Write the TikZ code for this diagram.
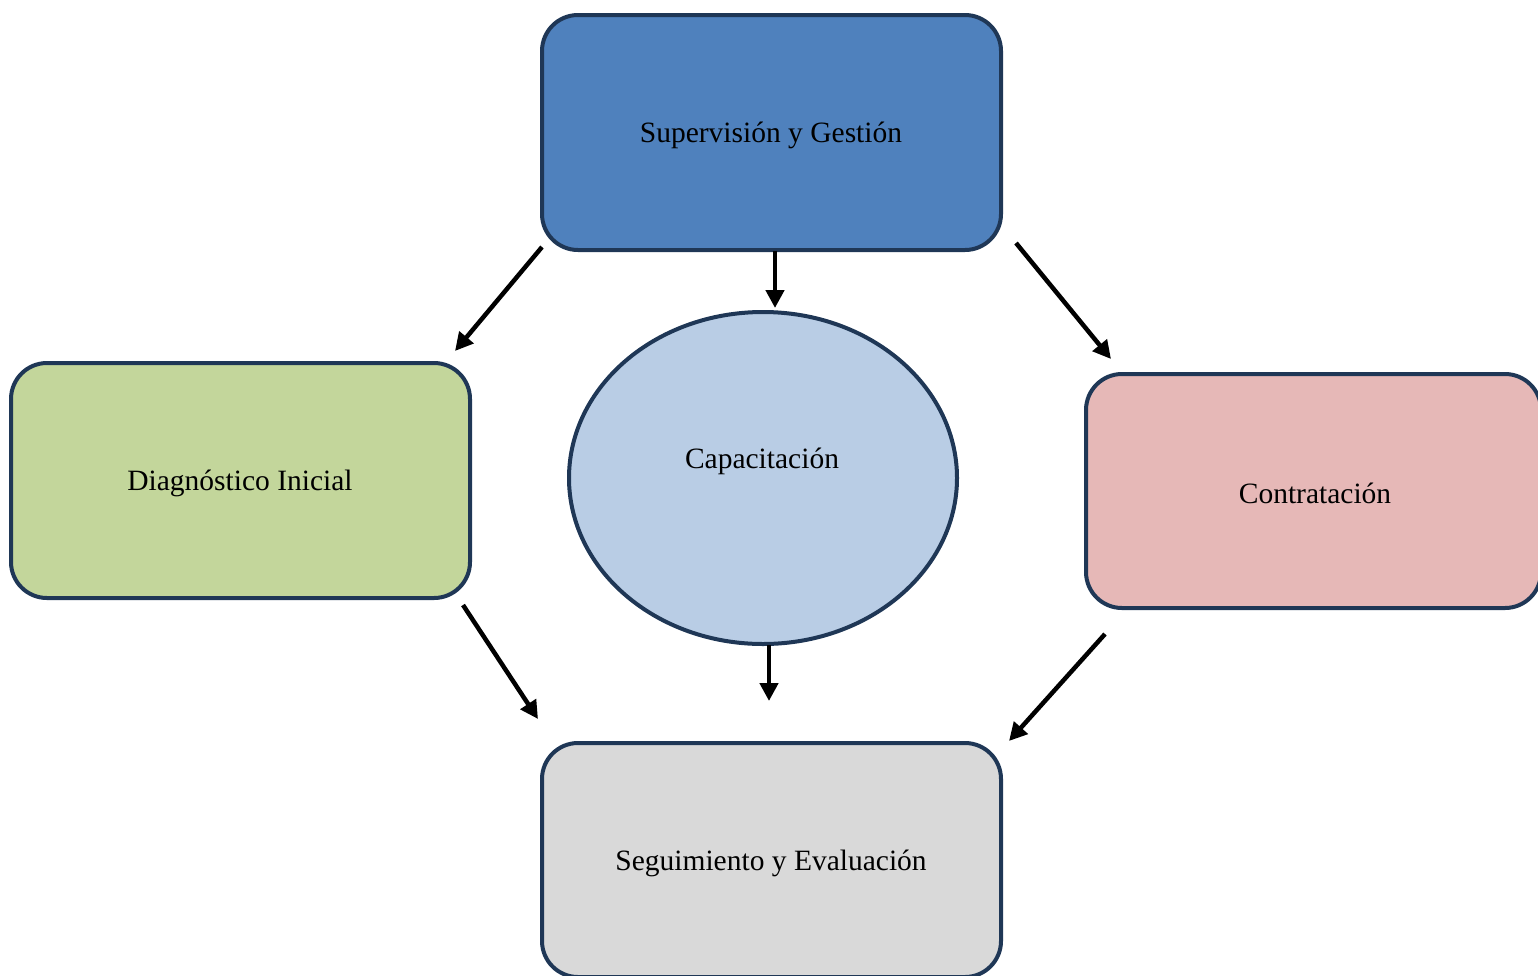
\documentclass[tikz,border=0pt]{standalone}
\usepackage{fontspec}
\setmainfont{Liberation Serif}
\usetikzlibrary{arrows.meta,shapes.geometric}
\definecolor{edgec}{HTML}{1F3756}
\definecolor{topc}{HTML}{4F81BD}
\definecolor{leftc}{HTML}{C3D69B}
\definecolor{rightc}{HTML}{E6B8B7}
\definecolor{botc}{HTML}{D9D9D9}
\definecolor{midc}{HTML}{B9CDE5}
\tikzset{
  box/.style={draw=edgec, line width=4pt, rounded corners=36pt},
  lbl/.style={font=\fontsize{29.5}{34}\selectfont, text=black, inner sep=0pt},
  arr/.style={line width=4.5pt, -{Triangle[length=18pt,width=18pt]}, black},
}
\begin{document}
\begin{tikzpicture}[x=1pt,y=-1pt]
\useasboundingbox (0,0) rectangle (1538,975);
% boxes
\draw[box, fill=topc] (542,15) rectangle (1001,250);
\draw[box, fill=leftc] (11,363) rectangle (470,598);
\draw[box, fill=rightc] (1086,374) rectangle (1541,608);
\draw[box, fill=botc] (542,743) rectangle (1001,977);
\draw[draw=edgec, line width=4pt, fill=midc] (763,478) ellipse [x radius=194, y radius=166];
% labels
\node[lbl] (sup) at (771,135) {Supervisión y Gestión};
\node[lbl] (dia) at (240,483) {Diagnóstico Inicial};
\node[lbl] (cap) at (762,461) {Capacitación};
\node[lbl] (con) at (1315,493) {Contratación};
\node[lbl] (seg) at (771,863) {Seguimiento y Evaluación};
% arrow endpoints
\coordinate (a1s) at (542,247); \coordinate (a1e) at (455,351);
\coordinate (a2s) at (775,251); \coordinate (a2e) at (775,308);
\coordinate (a3s) at (1016,243); \coordinate (a3e) at (1111,359);
\coordinate (a4s) at (463,605); \coordinate (a4e) at (538,719);
\coordinate (a5s) at (769,645); \coordinate (a5e) at (769,701);
\coordinate (a6s) at (1105,634); \coordinate (a6e) at (1009,741);
\draw[arr] (a1s) -- (a1e);
\draw[arr] (a2s) -- (a2e);
\draw[arr] (a3s) -- (a3e);
\draw[arr] (a4s) -- (a4e);
\draw[arr] (a5s) -- (a5e);
\draw[arr] (a6s) -- (a6e);
\end{tikzpicture}
\end{document}
